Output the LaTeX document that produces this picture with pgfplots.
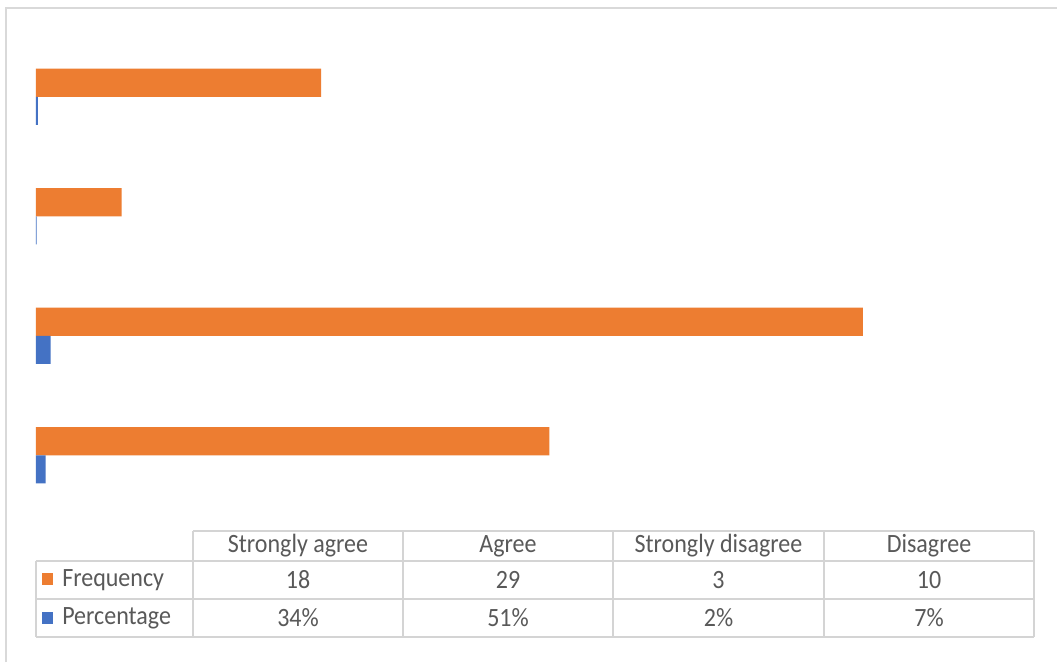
\documentclass[border=0pt]{standalone}
\usepackage{pgfplots}
\pgfplotsset{compat=1.18}
\usepackage{fontspec}
\setmainfont{Carlito}
\definecolor{orangeS}{HTML}{ED7D31}
\definecolor{blueS}{HTML}{4472C4}
\definecolor{txt}{HTML}{595959}
\definecolor{framec}{HTML}{D9D9D9}
\definecolor{tabc}{HTML}{D4D4D4}
\begin{document}
\begin{tikzpicture}
\begin{scope}[x=0.75pt,y=-0.75pt]
\path[use as bounding box] (0,0) rectangle (1057,662);
\fill[white] (0,0) rectangle (1057,662);
\draw[framec, line width=1.5pt] (6,662) -- (6,8) -- (1057,8);
% data table grid
\begin{scope}[tabc, line width=1.1pt]
\draw (193,531) -- (1034,531);
\draw (36,561) -- (1034,561);
\draw (36,599) -- (1034,599);
\draw (36,637) -- (1034,637);
\draw (36,561) -- (36,637);
\foreach \xx in {193,403,613,824,1034} {\draw (\xx,531) -- (\xx,637);}
\end{scope}
\fill[orangeS] (42,573) rectangle (53,585);
\fill[blueS] (42,612) rectangle (53,624);
\begin{scope}[every node/.style={text=txt, font=\fontsize{18}{20}\selectfont, inner sep=0pt, yscale=1.1, transform shape}]
\node at (298,546) {Strongly agree};
\node at (508,546) {Agree};
\node at (718.5,546) {Strongly disagree};
\node at (929,546) {Disagree};
\node[anchor=west] at (62,580) {Frequency};
\node[anchor=west] at (62,618) {Percentage};
\node at (298,580) {18};
\node at (508,580) {29};
\node at (718.5,580) {3};
\node at (929,580) {10};
\node at (298,618) {34\%};
\node at (508,618) {51\%};
\node at (718.5,618) {2\%};
\node at (929,618) {7\%};
\end{scope}
\end{scope}
\begin{axis}[
  at={(27pt,-386.25pt)}, anchor=south west,
  scale only axis, width=748.5pt, height=358.5pt,
  xmin=0, xmax=35, ymin=-0.5, ymax=3.5,
  hide axis, clip=false,
  xbar, bar width=0.235,
]
\addplot[fill=orangeS, draw=none, bar shift=0.1175] coordinates {(18,0) (29,1) (3,2) (10,3)};
\addplot[fill=blueS, draw=none, bar shift=-0.1175] coordinates {(0.34,0) (0.51,1) (0.02,2) (0.07,3)};
\end{axis}
\end{tikzpicture}
\end{document}
